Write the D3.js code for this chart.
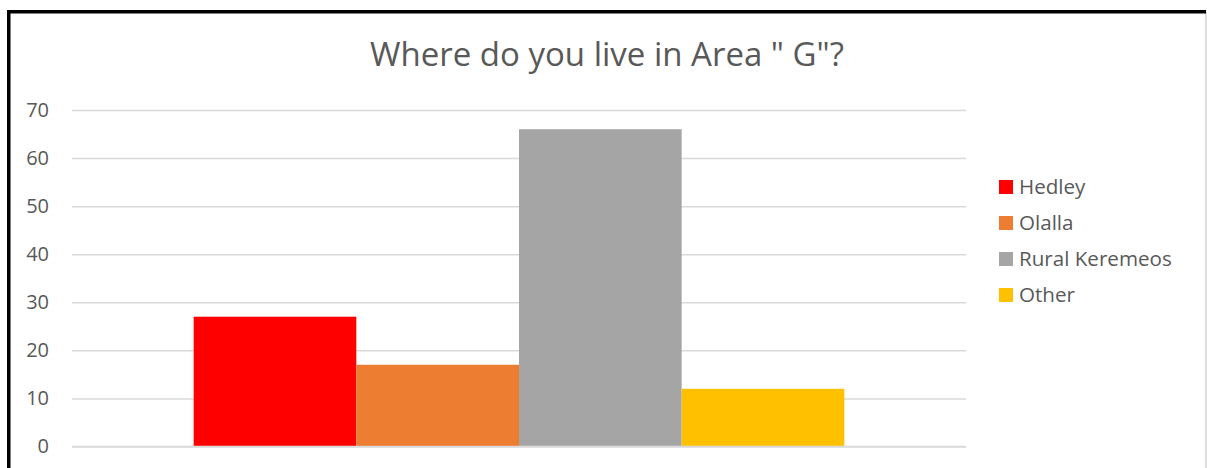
<!DOCTYPE html>
<html>
<head>
<meta charset="utf-8">
<script src="https://cdn.jsdelivr.net/npm/d3@7"></script>
<style>
  html, body { margin: 0; padding: 0; background: #fff; }
  svg { display: block; }
  text { font-family: "Open Sans", "Liberation Sans", sans-serif; fill: #595959; }
</style>
</head>
<body>
<svg id="chart" width="1207" height="468"></svg>
<script>
// Survey responses: where respondents live in Area "G"
const categories = ["Hedley", "Olalla", "Rural Keremeos", "Other"];
const counts = [27, 17, 66, 12];
const colors = ["#FF0000", "#ED7D31", "#A5A5A5", "#FFC000"];
const yTicks = [0, 10, 20, 30, 40, 50, 60, 70];
const title = "Where do you live in Area \" G\"?";

const svg = d3.select("#chart");

// chart frame
svg.append("line").attr("x1", 1206).attr("x2", 1206).attr("y1", 12).attr("y2", 468)
  .attr("stroke", "#BFBFBF").attr("stroke-width", 1);
svg.append("path").attr("d", "M8.75,468 V11.75 H1206")
  .attr("fill", "none").attr("stroke", "#000").attr("stroke-width", 3.5);

const plot = { left: 72, right: 966, top: 110, bottom: 446.5 };

const y = d3.scaleLinear().domain([0, 70]).range([plot.bottom, plot.top]);

// single category group holding all four series
const x0 = d3.scaleBand().domain(["all"]).range([plot.left, plot.right]).paddingInner(0).paddingOuter(0.187);
const x1 = d3.scaleBand().domain(categories).range([x0("all"), x0("all") + x0.bandwidth()]).padding(0);

// gridlines
const yAxis = d3.axisLeft(y).tickValues(yTicks).tickSize(-(plot.right - plot.left)).tickPadding(23);
const gAxis = svg.append("g").attr("transform", `translate(${plot.left},0)`).call(yAxis);
gAxis.select(".domain").remove();
gAxis.selectAll(".tick line").attr("stroke", "#D9D9D9").attr("stroke-width", 1.5);
gAxis.selectAll(".tick text").attr("font-size", 20).style("fill", "#595959")
  .attr("font-family", "'Open Sans', sans-serif");

// bars
svg.append("g").selectAll("rect").data(categories).join("rect")
  .attr("x", d => x1(d))
  .attr("width", x1.bandwidth())
  .attr("y", (d, i) => y(counts[i]))
  .attr("height", (d, i) => y(0) - y(counts[i]))
  .attr("fill", (d, i) => colors[i]);

// baseline
svg.append("line").attr("x1", plot.left).attr("x2", plot.right)
  .attr("y1", y(0)).attr("y2", y(0)).attr("stroke", "#D9D9D9").attr("stroke-width", 1.5);

// title
svg.append("text").attr("x", 607).attr("y", 66).attr("text-anchor", "middle")
  .attr("font-size", 33).text(title);

// legend
const legend = svg.append("g").attr("transform", "translate(999,180)");
const rows = legend.selectAll("g").data(categories).join("g")
  .attr("transform", (d, i) => `translate(0,${i * 36})`);
rows.append("rect").attr("width", 14).attr("height", 14).attr("fill", (d, i) => colors[i]);
rows.append("text").attr("x", 20).attr("y", 7).attr("dy", "0.35em")
  .attr("font-size", 20.6).text(d => d);
</script>
</body>
</html>
